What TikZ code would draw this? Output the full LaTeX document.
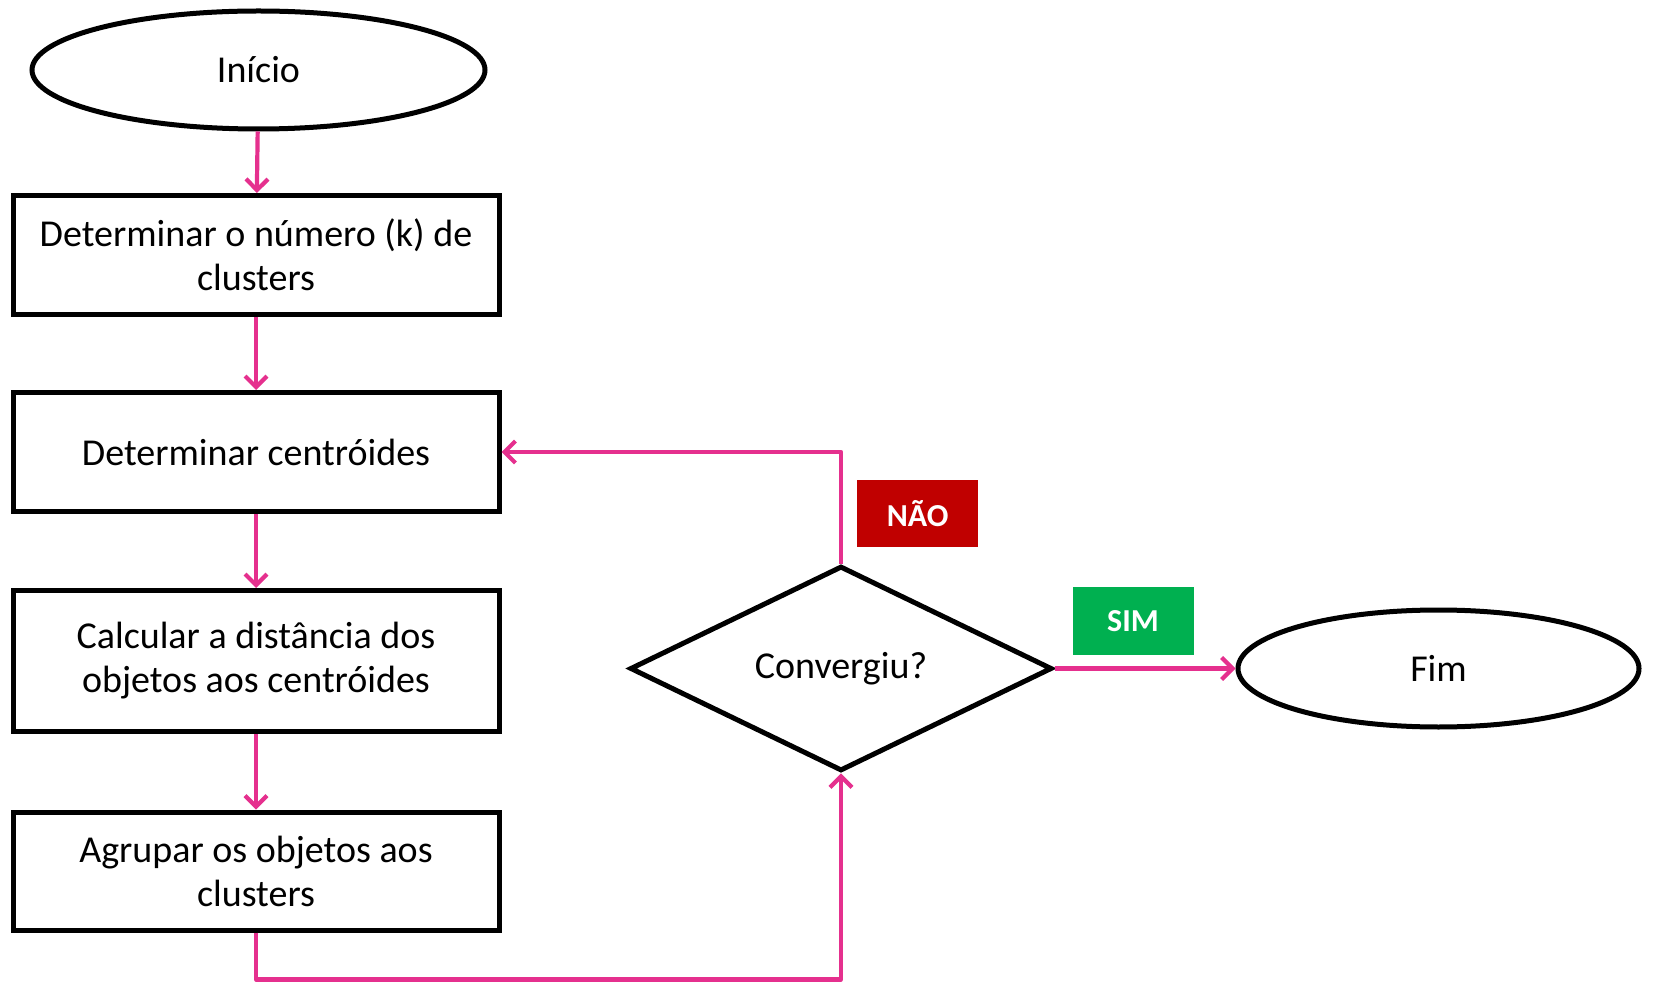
\documentclass[tikz,border=0pt]{standalone}
\usepackage{fontspec}
\setmainfont{Carlito}
\usetikzlibrary{shapes.geometric,arrows.meta}
\definecolor{linkpink}{HTML}{E5308E}
\definecolor{naored}{HTML}{C00000}
\definecolor{simgreen}{HTML}{00B050}

\begin{document}
\begin{tikzpicture}[x=0.5pt, y=-0.5pt, node distance=98.5pt,
  every node/.style={font=\fontsize{19}{22}\selectfont},
  etapa/.style={draw, rectangle, line width=2.5pt, minimum width=243pt, minimum height=59.5pt, align=center},
  terminal/.style={draw, ellipse, line width=2.5pt, inner sep=0pt},
  decisao/.style={draw, diamond, line width=2.5pt, inner sep=0pt, minimum width=211pt, minimum height=98.5pt},
  rotulo/.style={rectangle, inner sep=0pt, text=white, font=\fontsize{16}{18}\selectfont\bfseries, minimum width=60.5pt, minimum height=33.75pt},
  seta/.style={draw=linkpink, line width=2.1pt, line join=round, -{Straight Barb[length=5.5pt,width=11pt]}}]
\useasboundingbox (0,0) rectangle (1653,983);
% coluna da esquerda
\node (inicio)[terminal, minimum width=226.5pt, minimum height=59pt] at (258.5,70) {Início};
\node (det_k)[etapa] at (256,255) {Determinar o número (k) de\\clusters};
\node (centroides)[etapa] [below of = det_k] {Determinar centróides};
\node (distancia)[etapa, minimum height=70.5pt, node distance=104.5pt] [below of = centroides] {Calcular a distância dos\\objetos aos centróides};
\node (agrupar)[etapa, minimum height=59pt, node distance=105pt] [below of = distancia] {Agrupar os objetos aos\\clusters};
% decisao
\node (conv)[decisao] at (841,668.5) {Convergiu?};
\node (fim)[terminal, minimum width=200.5pt, minimum height=58.5pt, node distance=298.75pt] [right of = conv] {Fim};
\node (nao)[rotulo, fill=naored] at (917.6,513.5) {NÃO};
\node (sim)[rotulo, fill=simgreen] at (1133,621) {SIM};
\coordinate (fundo) at (841,979.4);
\draw[seta] (inicio) -- (det_k);
\draw[seta] (det_k) -- (centroides);
\draw[seta] (centroides) -- (distancia);
\draw[seta] (distancia) -- (agrupar);
\draw[seta] (agrupar.south) |- (fundo) -- (conv.south);
\draw[seta] (conv.north) |- (centroides.east);
\draw[seta] (conv.east) -- (fim.west);
\end{tikzpicture}
\end{document}
